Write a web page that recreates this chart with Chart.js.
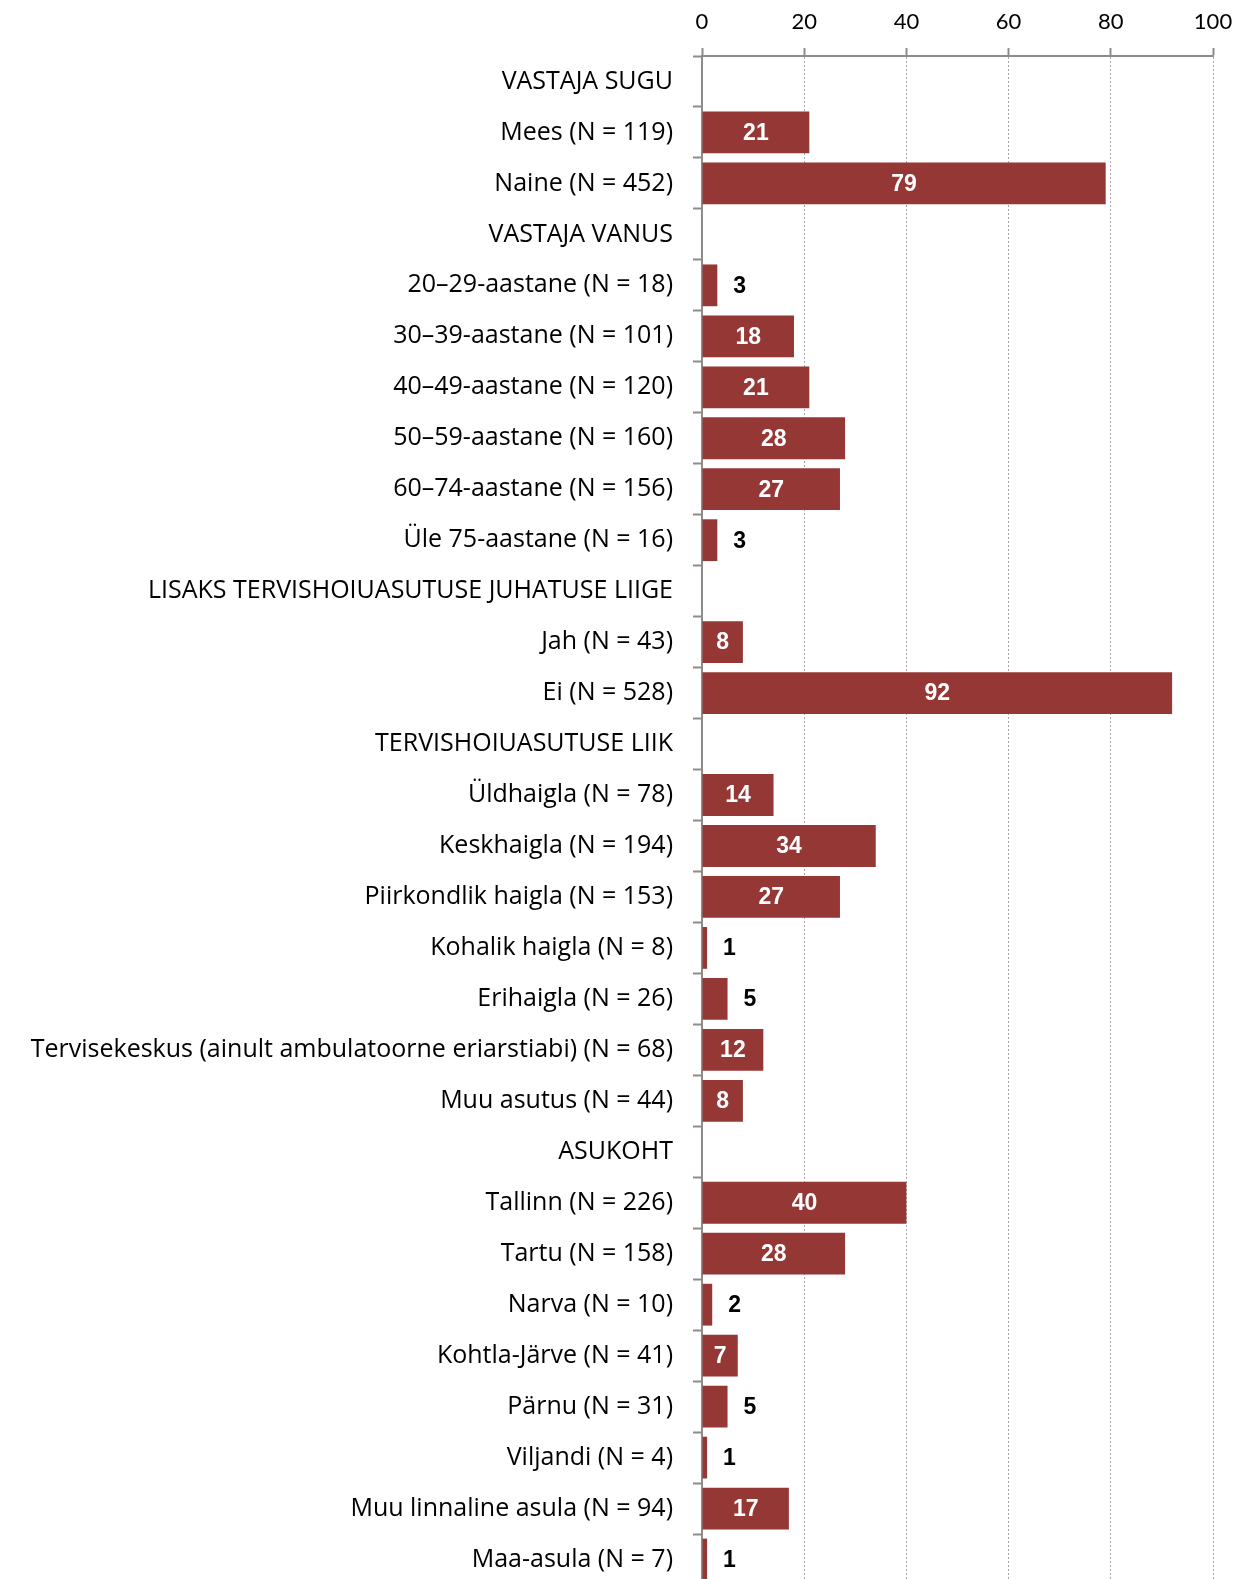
<!DOCTYPE html>
<html>
<head>
<meta charset="utf-8">
<script src="https://cdn.jsdelivr.net/npm/chart.js@4"></script>
<style>
  html, body { margin: 0; padding: 0; background: #fff; overflow: hidden; }
</style>
</head>
<body>
<canvas id="surveyChart" width="1237" height="1585"></canvas>
<script>
// categories (group headers have no bar)
const categories = [
  'VASTAJA SUGU',
  'Mees (N = 119)',
  'Naine (N = 452)',
  'VASTAJA VANUS',
  '20–29-aastane (N = 18)',
  '30–39-aastane (N = 101)',
  '40–49-aastane (N = 120)',
  '50–59-aastane (N = 160)',
  '60–74-aastane (N = 156)',
  'Üle 75-aastane (N = 16)',
  'LISAKS TERVISHOIUASUTUSE JUHATUSE LIIGE',
  'Jah (N = 43)',
  'Ei (N = 528)',
  'TERVISHOIUASUTUSE LIIK',
  'Üldhaigla (N = 78)',
  'Keskhaigla (N = 194)',
  'Piirkondlik haigla (N = 153)',
  'Kohalik haigla (N = 8)',
  'Erihaigla (N = 26)',
  'Tervisekeskus (ainult ambulatoorne eriarstiabi) (N = 68)',
  'Muu asutus (N = 44)',
  'ASUKOHT',
  'Tallinn (N = 226)',
  'Tartu (N = 158)',
  'Narva (N = 10)',
  'Kohtla-Järve (N = 41)',
  'Pärnu (N = 31)',
  'Viljandi (N = 4)',
  'Muu linnaline asula (N = 94)',
  'Maa-asula (N = 7)'
];

const shares = [
  null, 21, 79,
  null, 3, 18, 21, 28, 27, 3,
  null, 8, 92,
  null, 14, 34, 27, 1, 5, 12, 8,
  null, 40, 28, 2, 7, 5, 1, 17, 1
];

const xTicks = [0, 20, 40, 60, 80, 100];

const barColor = '#953735';
const gridColor = '#a6a6a6';
const axisColor = '#8c8c8c';

// value labels: white inside bigger bars, black to the right of small ones
const barLabels = {
  id: 'barLabels',
  afterDatasetsDraw(chart) {
    const ctx = chart.ctx;
    const meta = chart.getDatasetMeta(0);
    ctx.save();
    ctx.font = 'bold 23px "Liberation Sans", Arial, sans-serif';
    ctx.textBaseline = 'middle';
    meta.data.forEach((bar, i) => {
      const v = shares[i];
      if (v === null) return;
      if (v > 5) {
        ctx.fillStyle = '#fff';
        ctx.textAlign = 'center';
        ctx.fillText(String(v), (bar.x + bar.base) / 2, bar.y + 1);
      } else {
        ctx.fillStyle = '#000';
        ctx.textAlign = 'left';
        ctx.fillText(String(v), bar.x + 16, bar.y + 1);
      }
    });
    ctx.restore();
  }
};

const ctx = document.getElementById('surveyChart').getContext('2d');
new Chart(ctx, {
  type: 'bar',
  data: {
    labels: categories,
    datasets: [{
      data: shares,
      backgroundColor: barColor,
      borderWidth: 0,
      barPercentage: 0.82,
      categoryPercentage: 1
    }]
  },
  options: {
    indexAxis: 'y',
    responsive: false,
    animation: false,
    layout: { padding: { top: 0, right: 24, bottom: 0, left: 0 } },
    plugins: {
      legend: { display: false },
      tooltip: { enabled: false }
    },
    scales: {
      x: {
        position: 'top',
        min: xTicks[0],
        max: xTicks[xTicks.length - 1],
        afterBuildTicks: scale => {
          scale.ticks = xTicks.map(v => ({ value: v }));
        },
        afterFit: scale => {
          scale.height = 56;
          scale.paddingLeft = 0;
          scale.paddingRight = 0;
        },
        ticks: {
          color: '#000',
          padding: 13,
          font: { family: 'Lato, "Open Sans", sans-serif', size: 22 }
        },
        grid: {
          color: gridColor,
          lineWidth: 1,
          tickLength: 8,
          tickColor: axisColor,
          tickWidth: 2
        },
        border: { color: axisColor, width: 2, dash: [2, 2] }
      },
      y: {
        afterFit: scale => {
          scale.width = 702;
          scale.paddingTop = 0;
          scale.paddingBottom = 0;
        },
        ticks: {
          color: '#000',
          padding: 20,
          autoSkip: false,
          font: { family: '"Open Sans", sans-serif', size: 25 }
        },
        grid: {
          offset: true,
          drawOnChartArea: false,
          tickLength: 9,
          tickColor: axisColor,
          tickWidth: 2
        },
        border: { color: axisColor, width: 2 }
      }
    }
  },
  plugins: [barLabels]
});
</script>
</body>
</html>
